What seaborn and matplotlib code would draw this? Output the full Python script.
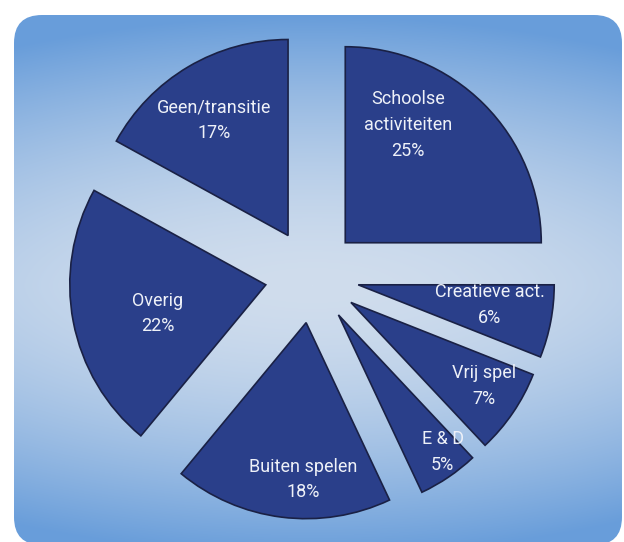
import numpy as np
import matplotlib
matplotlib.use("Agg")
import matplotlib.pyplot as plt
from matplotlib.patches import FancyBboxPatch
import seaborn as sns

# data (clockwise from 12 o'clock)
categories = ["Schoolse\nactiviteiten", "Creatieve act.", "Vrij spel", "E & D",
              "Buiten spelen", "Overig", "Geen/transitie"]
shares = [25, 6, 7, 5, 18, 22, 17]

# label layout: distance from wedge tip (in radii) and angle tweak (degrees)
label_dist = [0.68, 0.68, 0.80, 0.88, 0.80, 0.57, 0.70]
label_turn = [17, 2, 2, 3, 6, 4, 2]

sns.set_theme(style="white")
plt.rcParams["font.family"] = ["Roboto", "DejaVu Sans"]

W, H = 624, 542
fig = plt.figure(figsize=(W / 100, H / 100), dpi=100)
fig.patch.set_facecolor("white")

# background panel with a soft blue gradient
bg = fig.add_axes([0, 0, 1, 1])
bg.set_xlim(0, W)
bg.set_ylim(H, 0)
bg.axis("off")
yy, xx = np.mgrid[0:H, 0:W]
v = np.abs(yy - 285) / 270.0
h = np.abs(xx - 312) / 310.0
t = np.clip(v ** 1.7 + 0.2 * h ** 2, 0, 1)[..., None]
light = np.array([208, 221, 237]) / 255.0
dark = np.array([104, 157, 218]) / 255.0
img = light * (1 - t) + dark * t
im = bg.imshow(img, extent=(0, W, H, 0), interpolation="bilinear")
frame = FancyBboxPatch((14, 15), 608, 530, boxstyle="round,pad=0,rounding_size=28",
                       transform=bg.transData, facecolor="none", edgecolor="none")
bg.add_patch(frame)
im.set_clip_path(frame)

# pie axes, one data unit = pie radius (196 px)
R = 196.0
cx, cy = 312.0, H - 266.0
ax = fig.add_axes([0, 0, 1, 1])
ax.patch.set_alpha(0)
wedges, _ = ax.pie(shares, startangle=90, counterclock=False,
                   explode=[0.24] * len(shares), radius=1,
                   colors=["#2a3f8a"] * len(shares),
                   wedgeprops=dict(edgecolor="#1a2145", linewidth=1.2))
ax.set_xlim(-cx / R, (W - cx) / R)
ax.set_ylim(-(H - cy) / R, cy / R)
ax.set_aspect("equal")
ax.axis("off")

for w, name, pct, d, turn in zip(wedges, categories, shares, label_dist, label_turn):
    mid = np.deg2rad((w.theta1 + w.theta2) / 2 + turn)
    x0, y0 = w.center
    ax.text(x0 + d * np.cos(mid), y0 + d * np.sin(mid), f"{name}\n{pct}%",
            ha="center", va="center", color="#eef1f8", fontsize=13,
            linespacing=1.55)

fig.savefig("out.png", dpi=100)
